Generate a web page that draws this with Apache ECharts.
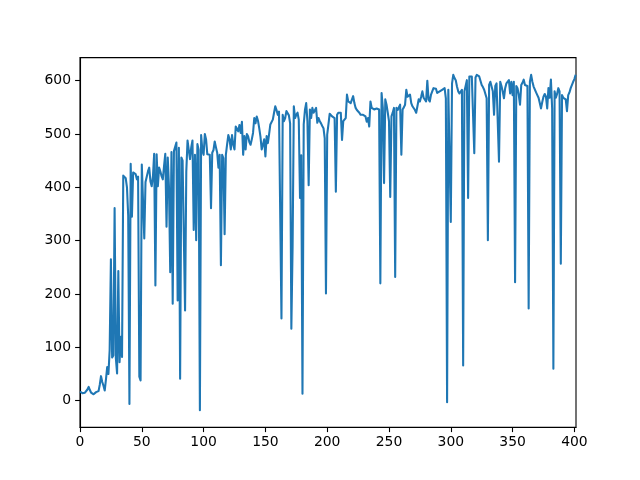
<!DOCTYPE html>
<html>
<head>
<meta charset="utf-8">
<script src="https://cdn.jsdelivr.net/npm/echarts@6/dist/echarts.min.js"></script>
<style>
html,body{margin:0;padding:0;background:#fff;}
#chart{width:640px;height:480px;}
</style>
</head>
<body>
<div id="chart"></div>
<script>
const values = [
17,16,14,12,15,18,21,26,20,15,
17,12,9,16,14,18,30,46,35,28,
19,40,63,50,95,265,81,85,361,80,
51,243,72,120,82,422,420,417,400,347,
-6,444,345,428,431,425,415,420,45,38,
443,446,304,410,420,430,437,411,402,420,
463,216,462,402,437,430,421,415,440,463,
326,456,400,241,466,182,468,468,484,188,
474,41,456,450,452,169,430,488,470,453,
475,488,320,461,301,481,470,-18,498,470,
461,500,490,462,465,461,361,465,470,486,
475,465,437,461,254,461,455,312,461,480,
498,490,471,498,480,471,514,510,505,517,
502,523,461,496,471,500,496,485,480,490,
502,530,520,533,525,511,495,471,480,490,
458,496,483,500,518,520,527,540,552,545,
536,542,540,154,536,524,530,543,540,535,
520,135,288,552,530,536,540,527,380,460,
13,518,545,558,524,404,546,530,549,540,
540,549,521,530,524,520,515,511,492,201,
499,518,538,535,533,530,530,392,536,540,
543,540,489,524,524,530,574,561,558,558,
558,571,558,549,545,545,540,536,536,536,
533,533,523,530,514,561,549,546,546,549,
548,546,546,220,577,549,408,565,555,540,
524,382,533,540,549,232,549,545,543,555,
461,546,550,555,583,570,568,574,558,552,
550,545,540,552,565,561,570,580,568,565,
561,600,565,561,574,580,586,589,585,577,
577,580,578,583,586,586,567,-3,583,586,
335,595,611,605,601,589,580,576,578,583,
66,580,590,601,380,608,605,608,606,464,
606,611,608,608,605,592,588,583,575,567,
301,592,598,595,580,536,590,595,598,448,
598,590,580,567,586,595,598,601,576,598,
573,598,222,590,586,573,555,592,596,602,
592,595,590,173,598,611,598,589,586,578,
573,568,558,548,560,570,575,570,548,586,
568,602,548,60,580,568,575,586,580,257,
573,568,566,565,543,573,578,586,588,598,
603,611
];
const xTicks = [0,50,100,150,200,250,300,350,400];
const yTicks = [0,100,200,300,400,500,600];

const chart = echarts.init(document.getElementById('chart'), null, {renderer:'canvas'});
const font = {fontFamily:'DejaVu Sans', fontSize:13.9, color:'#000'};
chart.setOption({
  animation:false,
  grid:{left:80,right:64,top:57.6,bottom:52.8,show:true,borderColor:'#000',borderWidth:1.1,backgroundColor:'transparent'},
  xAxis:{
    type:'value', min:0, max:401.3,
    axisLine:{show:true,onZero:false,lineStyle:{color:'#000',width:1.1}},
    axisTick:{show:true,length:4.9,lineStyle:{color:'#000',width:1.1},customValues:xTicks},
    axisLabel:Object.assign({margin:8,customValues:xTicks,formatter:v=>String(v)},font),
    splitLine:{show:false}
  },
  yAxis:{
    type:'value', min:-49.7, max:643.3,
    axisLine:{show:true,onZero:false,lineStyle:{color:'#000',width:1.1}},
    axisTick:{show:true,length:4.9,lineStyle:{color:'#000',width:1.1},customValues:yTicks},
    axisLabel:Object.assign({margin:9,customValues:yTicks,formatter:v=>String(v)},font),
    splitLine:{show:false}
  },
  series:[{
    type:'line',
    data:values.map((v,i)=>[i,v]),
    showSymbol:false,
    symbol:'none',
    lineStyle:{color:'#1f77b4',width:2.08,join:'round',cap:'butt'},
    itemStyle:{color:'#1f77b4'},
    clip:true
  }]
});
</script>
</body>
</html>
